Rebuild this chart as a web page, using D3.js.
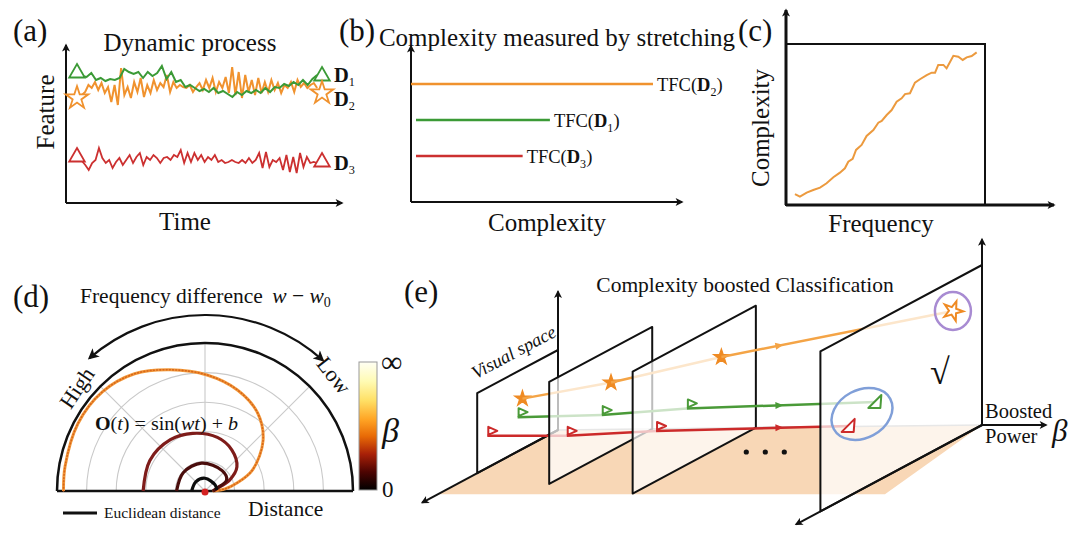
<!DOCTYPE html>
<html><head><meta charset="utf-8">
<script src="https://cdn.jsdelivr.net/npm/d3@7"></script>
<style>
body{margin:0;background:#fff}
svg{display:block}
text{font-family:"Liberation Serif","Times New Roman",serif;fill:#111}
</style>
</head><body>
<svg id="c" width="1080" height="540"></svg>
<script>
// ---------------- DATA ----------------
// (a) dynamic process: feature values over time
const featureD1 = [127,126,130,123,125,122,124,123,125,134,131,129,131,125,131,127,130,137,124,131,121,123,116,118,115,112,114,111,115,110,112,109,106,111,108,112,110,113,110,115,111,116,115,119,117,121,118,123,118,124,128];
const featureD2 = [108,111,118,115,121,113,120,110,116,101,118,98,135,108,116,105,121,111,125,106,118,110,123,113,120,116,128,111,121,115,118,116,115,118,111,116,120,113,123,115,125,111,121,115,126,110,136,108,131,105,128,111,123,108,125,110,121,111,123,113,120,110,118,115,121,111,123,116,120,115,118,120,115];
const featureD3 = [42,38,33,40,43,55,45,40,43,35,41,45,38,43,48,40,46,50,38,46,43,48,45,40,45,46,43,48,46,53,40,50,41,50,43,48,41,46,43,48,41,43,40,41,43,41,40,43,40,45,40,43,50,35,51,36,43,41,45,33,48,31,46,30,50,36,46,40,41,40];
const markerD1 = [130, 127];
const markerD2 = [105, 110];
const markerD3 = [46, 41];
// (b) complexity measured by stretching
const tfcCategories = ["D2", "D1", "D3"];
const tfcValues = [1.0, 0.565, 0.45];
// (c) complexity vs frequency
const freqC = [4.5,7.0,10.4,13.7,17.1,20.4,23.8,27.1,29.6,31.3,33.5,35.2,38.0,40.5,43.9,46.4,48.1,50.6,53.1,55.6,58.1,59.8,62.3,64.8,67.3,70.7,73.2,74.9,76.5,79.1,80.7,84.1,86.6,88.8,90.8,93.3,95.8];
const complexityC = [6.8,5.2,7.7,9.3,10.8,13.5,17.2,20.1,22.8,26.9,28.6,34.2,37.3,42.9,46.6,51.1,52.2,55.9,59.0,64.2,66.3,68.9,69.4,76.0,78.1,80.7,82.2,82.2,87.0,87.0,84.9,92.7,92.1,90.1,91.7,92.5,94.8];
// (d) polar spirals: angle (deg) and distance (ring units)
const spiralAngle1 = [0,6,14,24,41,56,72,89,106,121,136,152,170,180];
const spiralDist1  = [0.27,0.68,1.11,1.76,2.6,3.18,3.58,3.92,4.26,4.62,4.82,4.86,4.8,4.78];
const spiralAngle2 = [0,10,24,37,57,77,102,124,151,180];
const spiralDist2  = [0.27,0.38,0.91,1.35,1.66,1.86,1.99,2.09,2.13,2.09];
const spiralAngle3 = [0,13,27,50,97,140,180];
const spiralDist3  = [0.27,0.41,0.82,0.9,0.95,0.96,0.96];
const spiralAngle4 = [5,31,90,135,180];
const spiralDist4  = [0.4,0.4,0.43,0.44,0.45];
const gridRings = [1,2,3,4];
const gridSpokes = [45,90,135];
// (e) boosted classification
const frameBeta = [0, 1, 2.1, 4.5];
const orangeDepth = [0.44, 0.40, 0.28, 0.18];
const orangeHeight = [0.63, 0.67, 0.73, 0.81];
const greenDepth = [0.50, 0.49, 0.56, 0.66];
const greenHeight = [0.43, 0.40, 0.46, 0.50];
const redDepth = [0.875, 0.83, 0.81, 0.825];
const redHeight = [0.40, 0.38, 0.41, 0.44];

// ---------------- DRAW ----------------
const svg = d3.select("#c");
const defs = svg.append("defs");
function arrowMarker(id, color, w, h){
  defs.append("marker").attr("id",id).attr("viewBox","0 0 10 10").attr("refX",8).attr("refY",5)
    .attr("markerWidth",w).attr("markerHeight",h).attr("markerUnits","userSpaceOnUse")
    .attr("orient","auto-start-reverse")
    .append("path").attr("d","M0,0 L10,5 L0,10 L2.5,5 Z").attr("fill",color);
}
arrowMarker("arrK","#111",9,8);
arrowMarker("arrB","#111",12,11);

const C = {orange:"#f0922e", green:"#3b9a36", red:"#cc3030"};
const LBL = 31, TT = 25;

function axisLine(g, x1,y1,x2,y2, w, mk){
  const l = g.append("line").attr("x1",x1).attr("y1",y1).attr("x2",x2).attr("y2",y2)
    .attr("stroke","#111").attr("stroke-width",w);
  if(mk) l.attr("marker-end","url(#"+mk+")");
  return l;
}
function txt(g, x, y, s, size, opts={}){
  const t = g.append("text").attr("x",x).attr("y",y).attr("font-size",size).text(s);
  if(opts.anchor) t.attr("text-anchor",opts.anchor);
  if(opts.italic) t.attr("font-style","italic");
  if(opts.bold) t.attr("font-weight","bold");
  if(opts.tr) t.attr("transform",opts.tr);
  return t;
}
function dLabel(g, x, y, sub, size){
  const t = g.append("text").attr("x",x).attr("y",y).attr("font-size",size);
  t.append("tspan").attr("font-weight","bold").text("D");
  t.append("tspan").attr("font-size",size*0.6).attr("dy",size*0.18).text(sub);
  return t;
}
function tfcLabel(g, x, y, sub, size){
  const t = g.append("text").attr("x",x).attr("y",y).attr("font-size",size);
  t.append("tspan").text("TFC(");
  t.append("tspan").attr("font-weight","bold").text("D");
  t.append("tspan").attr("font-size",size*0.65).attr("dy",size*0.25).text(sub);
  t.append("tspan").attr("dy",-size*0.25).text(")");
}

// ===== Panel (a)
{
  const g = svg.append("g");
  const xA = d3.scaleLinear().domain([0,100]).range([77,322]);
  const yA = d3.scaleLinear().domain([0,155]).range([203,48]);
  txt(g, 13, 41, "(a)", LBL);
  txt(g, 190, 51, "Dynamic process", TT, {anchor:"middle"});
  txt(g, 185, 230, "Time", TT, {anchor:"middle"});
  txt(g, 0, 0, "Feature", TT, {anchor:"middle", tr:"translate(54,112) rotate(-90)"});
  axisLine(g, 66, yA(0), 66, 45, 2, "arrK");
  axisLine(g, 66, yA(0), 342, yA(0), 2, "arrK");
  const mkLine = arr => d3.line().x((d,i)=>xA(2 + i*96/(arr.length-1))).y(d=>yA(d))(arr);
  g.append("path").attr("d",mkLine(featureD2)).attr("fill","none").attr("stroke",C.orange).attr("stroke-width",2);
  g.append("path").attr("d",mkLine(featureD1)).attr("fill","none").attr("stroke",C.green).attr("stroke-width",2);
  g.append("path").attr("d",mkLine(featureD3)).attr("fill","none").attr("stroke",C.red).attr("stroke-width",1.8);
  const tri = d3.symbol().type(d3.symbolTriangle).size(105)();
  const star = d3.symbol().type(d3.symbolStar).size(160)();
  [[markerD1,tri,C.green],[markerD2,star,C.orange],[markerD3,tri,C.red]].forEach(([m,sym,col])=>{
    m.forEach((v,i)=>{
      g.append("path").attr("d",sym).attr("transform",`translate(${xA(i*100)},${yA(v)})`)
       .attr("fill","#fff").attr("stroke",col).attr("stroke-width",1.8);
    });
  });
  dLabel(g, 334, 82, "1", 20.5);
  dLabel(g, 334, 106, "2", 20.5);
  dLabel(g, 334, 170, "3", 20.5);
}

// ===== Panel (b)
{
  const g = svg.append("g");
  const xB = d3.scaleLinear().domain([0,1]).range([416,653]);
  const yB = d3.scalePoint().domain(tfcCategories).range([84,156]);
  const cols = {D2:C.orange, D1:C.green, D3:C.red};
  txt(g, 339, 41, "(b)", LBL);
  txt(g, 557, 46, "Complexity measured by stretching", TT, {anchor:"middle"});
  txt(g, 547, 231, "Complexity", TT, {anchor:"middle"});
  axisLine(g, 411, 202, 411, 46, 2, "arrK");
  axisLine(g, 411, 202, 682, 202, 2, "arrK");
  tfcCategories.forEach((c,i)=>{
    g.append("line").attr("x1", c==="D2"?411:xB(0)).attr("x2",xB(tfcValues[i]))
      .attr("y1",yB(c)).attr("y2",yB(c)).attr("stroke",cols[c]).attr("stroke-width",2.5);
    tfcLabel(g, xB(tfcValues[i])+4, yB(c)+7, c.slice(1), 18.5);
  });
}

// ===== Panel (c)
{
  const g = svg.append("g");
  const xC = d3.scaleLinear().domain([0,100]).range([786,985]);
  const yC = d3.scaleLinear().domain([0,100]).range([205,44]);
  txt(g, 738, 41, "(c)", LBL);
  txt(g, 881, 232, "Frequency", TT, {anchor:"middle"});
  txt(g, 0, 0, "Complexity", TT, {anchor:"middle", tr:"translate(769,128) rotate(-90)"});
  g.append("rect").attr("x",xC(0)).attr("y",yC(100)).attr("width",xC(100)-xC(0)).attr("height",yC(0)-yC(100))
    .attr("fill","none").attr("stroke","#111").attr("stroke-width",2);
  axisLine(g, xC(0), yC(0), xC(0), 10, 3, "arrK");
  axisLine(g, xC(0), yC(0), 1054, yC(0), 3, "arrK");
  g.append("path").attr("d", d3.line().x((d,i)=>xC(freqC[i])).y(d=>yC(d))(complexityC))
    .attr("fill","none").attr("stroke","#ec9a3e").attr("stroke-width",2);
}

// ===== Panel (d)
{
  const g = svg.append("g");
  const cx = 205, cy = 491;
  const rD = d3.scaleLinear().domain([0,5]).range([0,148]);
  const pt = (deg, r) => [cx + rD(r)*Math.cos(deg*Math.PI/180), cy - rD(r)*Math.sin(deg*Math.PI/180)];
  txt(g, 13, 307, "(d)", LBL);
  const ft = g.append("text").attr("x",80).attr("y",303).attr("font-size",21.5);
  ft.append("tspan").text("Frequency difference ");
  ft.append("tspan").attr("font-style","italic").attr("dx",4).text("w");
  ft.append("tspan").text(" − ");
  ft.append("tspan").attr("font-style","italic").text("w");
  ft.append("tspan").attr("font-size",14).attr("dy",4).text("0");
  const semi = R => { const p = d3.path(); p.moveTo(cx-R, cy); p.arc(cx, cy, R, Math.PI, 2*Math.PI, false); return p.toString(); };
  gridRings.forEach(r => g.append("path").attr("d",semi(rD(r))).attr("fill","none").attr("stroke","#c9c9c9").attr("stroke-width",1.1));
  gridSpokes.forEach(a => { const p = pt(a,5); g.append("line").attr("x1",cx).attr("y1",cy).attr("x2",p[0]).attr("y2",p[1]).attr("stroke","#c9c9c9").attr("stroke-width",1.1); });
  g.append("path").attr("d",semi(rD(5))).attr("fill","none").attr("stroke","#111").attr("stroke-width",2.5);
  g.append("line").attr("x1",cx-rD(5)).attr("x2",cx+rD(5)).attr("y1",cy).attr("y2",cy).attr("stroke","#111").attr("stroke-width",2.5);
  {
    const R = 176, a0 = -131*Math.PI/180, a1 = -48*Math.PI/180;
    const p = d3.path(); p.moveTo(cx + R*Math.cos(a0), cy + R*Math.sin(a0)); p.arc(cx, cy, R, a0, a1, false);
    g.append("path").attr("d",p.toString()).attr("fill","none").attr("stroke","#111").attr("stroke-width",2.2)
      .attr("marker-start","url(#arrB)").attr("marker-end","url(#arrB)");
  }
  txt(g, 0, 0, "High", 22, {anchor:"middle", tr:"translate(83,392) rotate(-56)"});
  txt(g, 0, 0, "Low", 22, {anchor:"middle", tr:"translate(328,380) rotate(52)"});
  const spiral = (angles, dists) => d3.line().curve(d3.curveCatmullRom).x((d,i)=>pt(angles[i],d)[0]).y((d,i)=>pt(angles[i],d)[1])(dists);
  g.append("path").attr("d",spiral(spiralAngle1,spiralDist1)).attr("fill","none").attr("stroke","#f29a3c").attr("stroke-width",3);
  g.append("path").attr("d",spiral(spiralAngle1,spiralDist1)).attr("fill","none").attr("stroke","#d8661a").attr("stroke-width",1.6)
    .attr("stroke-dasharray","0.8,2.4").attr("stroke-linecap","round");
  g.append("path").attr("d",spiral(spiralAngle2,spiralDist2)).attr("fill","none").attr("stroke","#7e1c1a").attr("stroke-width",3.2);
  g.append("path").attr("d",spiral(spiralAngle3,spiralDist3)).attr("fill","none").attr("stroke","#4a0d0c").attr("stroke-width",3.2);
  g.append("path").attr("d",spiral(spiralAngle4,spiralDist4)).attr("fill","none").attr("stroke","#0c0c0c").attr("stroke-width",3.2);
  g.append("circle").attr("cx",cx).attr("cy",cy+1).attr("r",3.5).attr("fill","#d42222");
  const ot = g.append("text").attr("x",95).attr("y",430).attr("font-size",19)
    .attr("textLength",143).attr("lengthAdjust","spacingAndGlyphs");
  ot.append("tspan").attr("font-weight","bold").text("O");
  ot.append("tspan").text("(");
  ot.append("tspan").attr("font-style","italic").text("t");
  ot.append("tspan").text(") = sin(");
  ot.append("tspan").attr("font-style","italic").text("wt");
  ot.append("tspan").text(") + ");
  ot.append("tspan").attr("font-style","italic").text("b");
  const grad = defs.append("linearGradient").attr("id","hot").attr("x1",0).attr("y1",0).attr("x2",0).attr("y2",1);
  [[0,"#fffff4"],[0.15,"#fffbb4"],[0.3,"#ffe066"],[0.45,"#ffa424"],[0.58,"#e86a06"],[0.72,"#a82008"],[0.86,"#4c0402"],[1,"#000"]]
    .forEach(([o,c])=>grad.append("stop").attr("offset",o).attr("stop-color",c));
  g.append("rect").attr("x",359).attr("y",362).attr("width",18).attr("height",128).attr("fill","url(#hot)").attr("stroke","#999").attr("stroke-width",1);
  txt(g, 381, 372, "∞", 30);
  txt(g, 382, 442, "β", 34, {italic:true});
  txt(g, 382, 497, "0", 23);
  g.append("line").attr("x1",63).attr("x2",97).attr("y1",513).attr("y2",513).attr("stroke","#111").attr("stroke-width",3);
  txt(g, 104, 518, "Euclidean distance", 15.5);
  txt(g, 248, 516, "Distance", 21.5);
}

// ===== Panel (e)
{
  const g = svg.append("g");
  const xBeta = d3.scaleLinear().domain([0,4.5]).range([558,982]);
  const yBeta = d3.scaleLinear().domain([0,4.5]).range([430,425]);
  const sBeta = d3.scaleLinear().domain([0,1,2.1,4.5]).range([80,102,122,160]);
  const proj = (b,d,h) => { const s = sBeta(b); return [xBeta(b) - d*s*1.01, yBeta(b) + d*s*0.54 - h*s]; };
  const P = p => p.join(",");
  txt(g, 404, 302, "(e)", LBL);
  txt(g, 745, 292, "Complexity boosted Classification", 21.5, {anchor:"middle"});
  const fl = proj(0,1.485,0);
  g.append("polygon").attr("points",[proj(0,0,0), proj(4.5,0,0), [xBeta(3.47), fl[1]], fl].map(P).join(" "))
    .attr("fill","#f8d7b6");
  g.append("line").attr("x1",proj(0,0,0)[0]).attr("y1",proj(0,0,0)[1]).attr("x2",proj(4.5,0,0)[0]).attr("y2",proj(4.5,0,0)[1])
    .attr("stroke","#a8a8a8").attr("stroke-width",1.5);

  const classes = [
    {depth:orangeDepth, height:orangeHeight, line:"#f4a446", mark:"#ef8a22", type:"star"},
    {depth:greenDepth, height:greenHeight, line:"#4a9a38", mark:"#4a9a38", type:"tri"},
    {depth:redDepth, height:redHeight, line:"#cc2a2a", mark:"#cc2a2a", type:"tri"}
  ];
  const pos = (c,k) => proj(frameBeta[k], c.depth[k], c.height[k]);
  const starSym = d3.symbol().type(d3.symbolStar).size(75)();
  const starBig = d3.symbol().type(d3.symbolStar).size(120)();

  frameBeta.forEach((b,k)=>{
    if(k>0){
      classes.forEach(c=>{
        const a = pos(c,k-1), e = pos(c,k);
        g.append("line").attr("x1",a[0]).attr("y1",a[1]).attr("x2",e[0]).attr("y2",e[1])
          .attr("stroke",c.line).attr("stroke-width",2.5);
        if(k===3){
          const xm = xBeta(2.35), t = (xm-a[0])/(e[0]-a[0]);
          const ym = a[1] + t*(e[1]-a[1]);
          const ang = Math.atan2(e[1]-a[1], e[0]-a[0])*180/Math.PI;
          g.append("path").attr("d","M-4,-3.5 L4,0 L-4,3.5 Z").attr("fill",c.line)
            .attr("transform",`translate(${xm},${ym}) rotate(${ang})`);
        }
      });
    }
    const corners = [proj(b,0,0), proj(b,0,1), proj(b,1,1), proj(b,1,0)];
    g.append("polygon").attr("points",corners.map(P).join(" "))
      .attr("fill","#fff").attr("fill-opacity",0.72).attr("stroke","#111").attr("stroke-width",2).attr("stroke-linejoin","round");
    if(k===0){
      const o = proj(0,0,0), top = proj(0,0,1.73), dl = proj(0,1.68,0);
      axisLine(g, o[0], o[1], top[0], top[1], 2, "arrK");
      axisLine(g, o[0], o[1], dl[0], dl[1], 2, "arrK");
      const t1 = proj(0,1,1), t2 = proj(0,0,1);
      const ang = Math.atan2(t2[1]-t1[1], t2[0]-t1[0])*180/Math.PI;
      const mx = (t1[0]+t2[0])/2 - 1, my = (t1[1]+t2[1])/2 - 14;
      txt(g, 0, 0, "Visual space", 18.5, {anchor:"middle", italic:true, tr:`translate(${mx},${my}) rotate(${ang})`});
    }
    if(k===3){
      const o = proj(b,0,0), top = proj(b,0,1.16), dl = proj(b,1.15,0);
      axisLine(g, o[0], o[1], top[0], top[1], 2, "arrK");
      axisLine(g, o[0], o[1], dl[0], dl[1], 2, "arrK");
      axisLine(g, o[0], o[1], xBeta(5.18), o[1], 2, "arrK");
    }
    classes.forEach(c=>{
      const p = pos(c,k);
      if(c.type==="star"){
        g.append("path").attr("d", k===3?starBig:starSym).attr("transform",`translate(${p[0]},${p[1]}) rotate(${k===3?20:0})`)
          .attr("fill", k===3?"#fff":c.mark).attr("stroke",c.mark).attr("stroke-width",k===3?2:1.2);
      } else if(k<3){
        g.append("path").attr("d","M1,-1 L1,-9 L10,-5 Z").attr("transform",`translate(${p[0]},${p[1]})`)
          .attr("fill","#fff").attr("stroke",c.mark).attr("stroke-width",2).attr("stroke-linejoin","round");
      } else {
        g.append("path").attr("d","M-7,6 L6,-7 L5,6 Z").attr("transform",`translate(${p[0]},${p[1]})`)
          .attr("fill","#fff").attr("stroke",c.mark).attr("stroke-width",2).attr("stroke-linejoin","round");
      }
    });
    if(k===3){
      const po = pos(classes[0],3), pg = pos(classes[1],3), pr = pos(classes[2],3);
      g.append("ellipse").attr("cx",po[0]).attr("cy",po[1]).attr("rx",18).attr("ry",19)
        .attr("fill","none").attr("stroke","#a88bd2").attr("stroke-width",2.5);
      g.append("ellipse").attr("cx",(pg[0]+pr[0])/2).attr("cy",(pg[1]+pr[1])/2).attr("rx",32).attr("ry",24)
        .attr("transform",`rotate(-28,${(pg[0]+pr[0])/2},${(pg[1]+pr[1])/2})`)
        .attr("fill","none").attr("stroke","#809fd8").attr("stroke-width",2.5);
    }
  });
  txt(g, 930, 384, "√", 36);
  [0,1,2].forEach(i => g.append("circle").attr("cx",xBeta(2.2)+i*19 - 19).attr("cy",452).attr("r",2.6).attr("fill","#111"));
  txt(g, 985, 418, "Boosted", 20.5);
  txt(g, 985, 443, "Power", 20.5);
  txt(g, 1052, 441, "β", 31, {italic:true});
}
</script>
</body></html>
